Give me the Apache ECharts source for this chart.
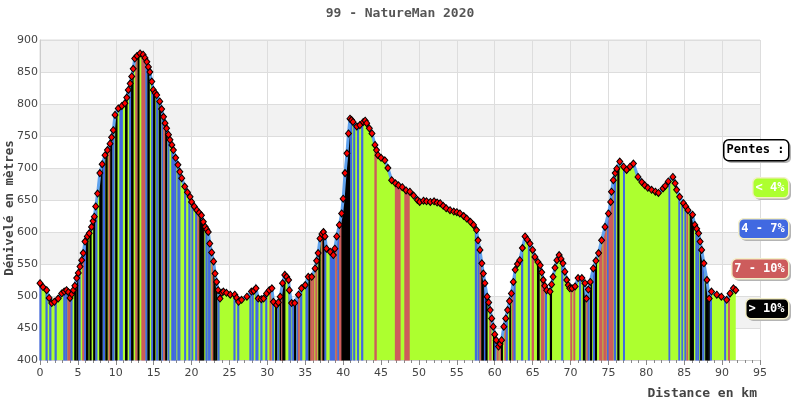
<!DOCTYPE html>
<html><head><meta charset="utf-8">
<script src="https://cdn.jsdelivr.net/npm/echarts@6/dist/echarts.min.js"></script>
<style>html,body{margin:0;padding:0;background:#fff}#c{width:800px;height:400px}</style>
</head><body><div id="c"></div>
<script>
const chartTitle = '99 - NatureMan 2020';
const yName = 'Dénivelé en mètres';
const xName = 'Distance en km';
const legendTitle = 'Pentes :';
const catLabels = ['< 4%', '4 - 7%', '7 - 10%', '> 10%'];
const catColors = ['#adff2f', '#4169e1', '#cd5c5c', '#000000'];

const distKm = [0,0.4,0.88,1.2,1.55,1.9,2.4,2.86,3.2,3.5,3.75,3.96,4.2,4.4,4.6,4.84,5.05,5.28,5.5,5.7,5.94,6.24,6.5,6.8,7.0,7.17,7.35,7.6,7.9,8.2,8.58,8.9,9.24,9.45,9.67,9.9,10.33,10.8,11.2,11.45,11.65,11.9,12.1,12.3,12.5,12.8,13.2,13.6,13.85,14.1,14.3,14.5,14.75,14.95,15.2,15.4,15.8,16.05,16.3,16.5,16.7,16.95,17.15,17.4,17.6,17.9,18.2,18.45,18.7,19.1,19.45,19.8,20.0,20.35,20.7,21.0,21.3,21.55,21.8,22.0,22.2,22.4,22.65,22.9,23.1,23.3,23.5,23.75,24.0,24.2,24.6,25.1,25.7,25.95,26.2,26.6,27.3,27.9,28.2,28.5,28.8,29.2,29.5,29.9,30.25,30.6,30.8,31.2,31.45,31.7,32.0,32.3,32.55,32.8,32.9,33.2,33.6,34.1,34.5,35.0,35.4,35.85,36.3,36.5,36.7,36.95,37.2,37.4,37.6,37.8,38.3,38.7,38.9,39.15,39.5,39.8,40.0,40.25,40.5,40.7,40.9,41.1,41.3,41.8,42.2,42.65,42.9,43.1,43.45,43.8,44.2,44.4,44.6,45.0,45.5,45.9,46.4,46.9,47.3,47.8,48.3,48.8,49.3,49.8,50.1,50.6,51.0,51.5,52.0,52.4,52.8,53.2,53.6,54.1,54.6,55.0,55.4,55.9,56.3,56.8,57.2,57.6,57.8,58.05,58.3,58.5,58.7,59.0,59.2,59.4,59.6,59.8,60.0,60.2,60.5,60.7,60.9,61.2,61.45,61.7,61.95,62.2,62.45,62.7,63.0,63.3,63.65,64.0,64.3,64.65,65.0,65.3,65.7,66.0,66.2,66.4,66.6,66.85,67.3,67.5,67.7,67.95,68.2,68.5,68.75,69.0,69.25,69.5,69.7,69.9,70.2,70.6,71.0,71.5,71.9,72.1,72.35,72.6,73.0,73.35,73.7,74.1,74.55,75.0,75.3,75.4,75.65,75.9,76.1,76.5,77.0,77.4,77.85,78.3,78.9,79.4,79.8,80.2,80.7,81.2,81.6,82.2,82.5,82.9,83.5,83.8,84.0,84.4,84.9,85.2,85.5,86.1,86.4,86.65,86.9,87.1,87.3,87.6,88.0,88.3,88.6,89.3,89.9,90.6,91.05,91.5,91.8];
const elevM = [520,514,509,497,489,491,496,504,507,509,506,497,503,509,516,528,536,546,556,567,585,593,598,608,617,624,640,660,692,706,720,728,738,748,759,783,793,797,801,810,822,832,843,855,871,875,879,877,872,866,858,850,835,822,817,814,804,792,780,770,762,752,744,736,728,716,705,694,684,671,662,655,647,640,634,630,626,616,608,604,600,582,568,554,535,522,509,496,505,507,505,502,502,497,491,494,499,507,508,512,496,495,496,504,509,512,491,486,490,499,520,533,530,525,509,489,489,502,512,517,530,530,543,555,567,590,597,600,593,574,569,564,574,593,611,629,652,692,723,754,777,775,772,765,767,772,774,770,762,754,736,728,720,716,712,700,681,676,673,670,665,663,657,650,647,649,648,647,648,646,645,641,637,634,632,631,629,625,621,616,611,603,587,572,551,535,520,499,490,478,465,452,440,431,421,425,431,452,465,478,492,504,522,541,550,556,575,593,588,582,572,561,553,548,537,525,516,509,507,518,530,544,556,564,558,551,538,525,517,512,512,515,528,528,520,496,510,522,543,555,567,587,608,629,647,663,681,692,699,710,702,697,702,707,686,678,673,669,666,663,661,668,672,679,686,676,666,655,645,640,634,627,611,605,598,585,572,551,525,496,507,502,499,494,504,512,509];

// slope category stripes: [startKm, endKm, category] (0 = <4% elsewhere)
const stripes = [
[0.0,0.12,1],[0.8,0.93,1],[1.3,1.43,1],[2.0,2.13,1],[3.15,3.3,1],[3.42,3.55,1],[3.7,4.0,2],[4.1,4.22,1],[4.6,4.75,3],[4.9,5.02,3],[5.15,5.28,1],[5.65,5.8,2],[5.9,6.02,1],[6.15,6.33,3],[6.6,6.73,3],[7.1,7.25,3],[7.38,7.5,1],[7.9,8.2,3],[8.35,8.5,1],[8.7,8.85,3],[9.1,9.25,2],[9.35,9.5,3],[9.62,9.76,1],[10.0,10.15,3],[10.55,10.85,1],[11.3,11.48,3],[11.85,12.0,1],[12.1,12.27,3],[12.65,12.8,2],[12.95,13.05,3],[13.45,13.85,2],[13.98,14.12,1],[14.25,14.4,3],[14.75,14.9,1],[15.0,15.15,3],[15.4,15.55,1],[15.75,15.9,3],
[16.1,16.2,1],[16.35,16.5,2],[16.6,16.7,3],[16.9,17.0,1],[17.4,17.7,1],[17.8,17.92,1],[18.2,18.45,1],[19.1,19.2,1],[19.65,19.78,1],[20.05,20.15,1],[20.55,20.68,1],[20.85,20.97,2],[21.1,21.6,3],[21.9,22.03,1],[22.2,22.45,1],[22.7,22.82,2],[22.95,23.08,3],[23.2,23.33,3],[23.5,23.62,1],[25.6,25.72,1],[26.1,26.22,1],[27.7,27.82,1],[28.0,28.12,1],[28.5,28.75,1],[29.15,29.28,1],[29.8,29.92,1],[30.35,30.48,2],[30.7,30.82,1],[31.1,31.23,3],[31.4,31.5,1],
[31.7,31.8,3],[31.9,32.0,2],[32.05,32.3,3],[32.85,33.1,1],[33.35,33.48,1],[33.6,33.7,3],[33.9,34.03,1],[34.1,34.2,2],[34.4,34.53,1],[35.1,35.35,1],[35.5,35.62,3],[35.75,35.85,2],[36.0,36.13,2],[36.4,36.53,2],[36.8,36.95,3],[37.2,37.3,2],[37.35,37.5,3],[37.6,37.7,1],[38.3,38.9,1],[39.05,39.17,2],[39.3,39.4,1],[39.55,39.82,2],[39.85,40.9,3],[41.0,41.12,1],[41.4,41.52,1],[41.9,42.02,1],[42.45,42.58,1],[44.2,44.35,2],[46.9,47.5,2],
[48.15,48.7,2],[57.45,57.6,1],[57.8,57.95,1],[58.05,58.15,2],[58.3,58.5,3],[58.65,58.78,1],[58.85,58.98,3],[59.35,59.5,2],[59.85,60.0,3],[60.05,60.15,1],[60.35,60.45,2],[60.7,60.82,2],[60.9,61.0,3],[61.35,61.48,2],[61.55,61.65,1],[62.0,62.1,3],[62.35,62.45,2],[62.55,62.68,1],[63.55,63.68,1],
[64.45,64.55,1],[64.95,65.1,2],[65.65,65.85,3],[66.15,66.5,2],[66.7,66.82,1],[67.35,67.48,3],[68.85,68.97,1],[70.05,70.15,2],[70.45,70.55,2],[71.2,71.32,1],[71.7,71.9,3],[72.15,72.25,2],[72.35,72.45,1],[72.65,72.78,3],[73.05,73.15,1],[73.3,73.42,3],[73.85,74.15,2],[74.4,74.7,2],[74.9,75.0,1],[75.1,75.6,2],[75.8,75.95,1],[76.25,76.38,3],[77.0,77.1,1],
[83.0,83.08,1],[84.3,84.38,1],[84.7,84.78,1],[85.1,85.2,1],[85.38,85.46,2],[85.8,86.2,3],[86.55,86.65,1],[86.8,86.9,1],[87.15,87.3,3],[87.45,87.6,1],[87.85,88.15,3],[88.25,88.35,3],[88.45,88.58,1],[90.35,90.45,1],[90.85,90.95,2]
];

function elevAt(x) {
  for (let i = 0; i < distKm.length - 1; i++) {
    if (x >= distKm[i] && x <= distKm[i + 1]) {
      const t = (x - distKm[i]) / (distKm[i + 1] - distKm[i]);
      return elevM[i] + t * (elevM[i + 1] - elevM[i]);
    }
  }
  return elevM[elevM.length - 1];
}

const profile = distKm.map((d, i) => [d, elevM[i]]);
const chart = echarts.init(document.getElementById('c'), null, {renderer: 'canvas'});

const mono = "'DejaVu Sans Mono', monospace";
const legendBoxes = [
  {label: legendTitle, x: 723, y: 139, w: 65, h: 21, fill: '#ffffff', stroke: '#000000', text: '#000000'},
  {label: catLabels[0], x: 752, y: 177, w: 36, h: 20, fill: catColors[0], stroke: '#f3efc8', text: '#ffffff'},
  {label: catLabels[1], x: 738, y: 218, w: 50, h: 20, fill: catColors[1], stroke: '#f3efc8', text: '#ffffff'},
  {label: catLabels[2], x: 731, y: 258, w: 57, h: 20, fill: catColors[2], stroke: '#f3efc8', text: '#ffffff'},
  {label: catLabels[3], x: 745, y: 298, w: 43, h: 20, fill: catColors[3], stroke: '#f3efc8', text: '#ffffff'}
];
const graphics = [];
legendBoxes.forEach(b => {
  graphics.push({type: 'rect', left: b.x + 3, top: b.y + 3, z: 100, shape: {width: b.w, height: b.h, r: 5}, style: {fill: '#b4b4b4'}});
  graphics.push({type: 'rect', left: b.x, top: b.y, z: 101, shape: {width: b.w, height: b.h, r: 5}, style: {fill: b.fill, stroke: b.stroke, lineWidth: 1.5}});
  graphics.push({type: 'text', x: b.x + b.w / 2, y: b.y + b.h / 2 + 0.5, z: 102, style: {text: b.label, fill: b.text, font: "bold 12px " + mono, align: 'center', verticalAlign: 'middle'}});
});
graphics.push({type: 'text', right: 43, top: 387, style: {text: xName, fill: '#444', font: "bold 13px " + mono}});
graphics.push({type: 'text', x: 10, y: 208, rotation: Math.PI / 2, style: {text: yName, fill: '#444', font: "bold 12.5px " + mono, align: 'center', verticalAlign: 'middle'}});

chart.setOption({
  animation: false,
  backgroundColor: '#ffffff',
  title: {text: chartTitle, left: 'center', top: 2, textStyle: {fontFamily: mono, fontWeight: 'bold', fontSize: 13, color: '#555'}},
  grid: {left: 40, right: 40, top: 40, bottom: 40, containLabel: false, outerBoundsMode: 'none', show: true, borderColor: '#dddddd', borderWidth: 1},
  xAxis: {
    type: 'value', min: 0, max: 95, interval: 5,
    axisLine: {lineStyle: {color: '#cccccc'}},
    axisTick: {show: true, length: 5, lineStyle: {color: '#888'}},
    minorTick: {show: true, splitNumber: 5, length: 3, lineStyle: {color: '#888'}},
    axisLabel: {color: '#444', fontSize: 11, fontFamily: 'DejaVu Sans', margin: 8},
    splitLine: {show: true, lineStyle: {color: '#dddddd'}}
  },
  yAxis: {
    type: 'value', min: 400, max: 900, interval: 50,
    axisLine: {show: true, lineStyle: {color: '#cccccc'}},
    axisTick: {show: false},
    axisLabel: {color: '#444', fontSize: 11, fontFamily: 'DejaVu Sans', margin: 2},
    splitLine: {show: true, lineStyle: {color: '#dddddd'}},
    splitArea: {show: true, areaStyle: {color: ['#ffffff', '#f2f2f2']}}
  },
  graphic: graphics,
  series: [
    {type: 'line', data: profile, z: 1, symbol: 'none', lineStyle: {width: 0}, areaStyle: {color: catColors[0], opacity: 1}, silent: true},
    {type: 'custom', z: 2, data: stripes, encode: {x: [0, 1], y: 2}, silent: true,
      renderItem: function (params, api) {
        const a = api.value(0), b = api.value(1), c = api.value(2);
        const pts = [api.coord([a, 400]), api.coord([a, elevAt(a)])];
        for (let i = 0; i < distKm.length; i++) {
          if (distKm[i] > a && distKm[i] < b) pts.push(api.coord([distKm[i], elevM[i]]));
        }
        pts.push(api.coord([b, elevAt(b)]));
        pts.push(api.coord([b, 400]));
        return {type: 'polygon', shape: {points: pts}, style: {fill: catColors[c], stroke: catColors[c], lineWidth: 1.2}};
      }
    },
    {type: 'line', data: profile, z: 3, symbol: 'diamond', symbolSize: [6, 7], showSymbol: true,
      lineStyle: {color: '#5fa2ee', width: 3},
      itemStyle: {color: '#ff0000', borderColor: '#000000', borderWidth: 1}, silent: true}
  ]
});
</script></body></html>
